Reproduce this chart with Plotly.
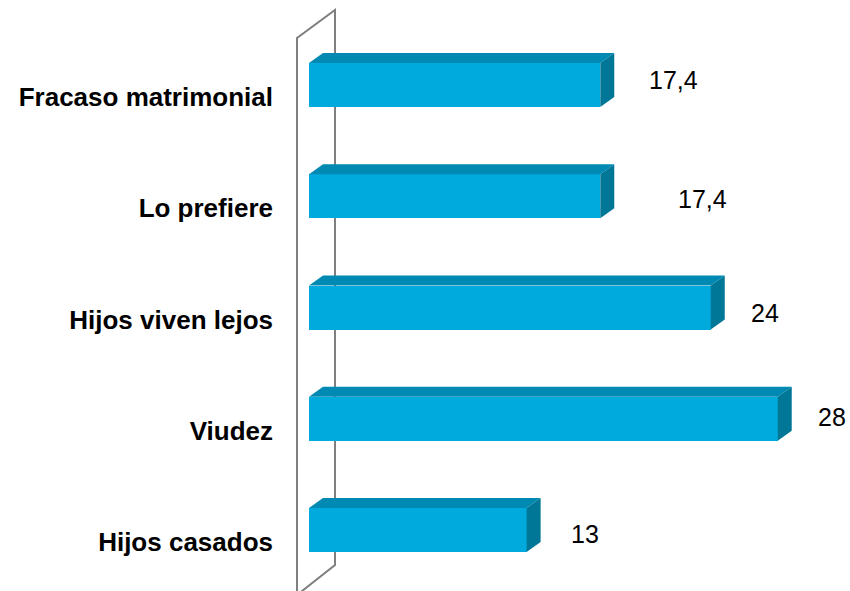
import plotly.graph_objects as go

# ---- data ----
categories = ["Hijos casados", "Viudez", "Hijos viven lejos", "Lo prefiere", "Fracaso matrimonial"]
values = [13, 28, 24, 17.4, 17.4]
value_labels = ["13", "28", "24", "17,4", "17,4"]

# ---- style / layout ----
PX_PER_UNIT = 16.74          # horizontal scale (px per unit)
PX_PER_CAT = 111.25          # vertical spacing (px per category)
BAR_H = 44 / PX_PER_CAT      # bar thickness in category units
DX = 14 / PX_PER_UNIT        # 3D depth, x
DY = 10 / PX_PER_CAT         # 3D depth, y
LABEL_DROP = 12 / PX_PER_CAT # category labels sit slightly below bar centres
FRONT = "#00AADD"
TOP = "#0089B2"
SIDE = "#007797"
# label offsets (px) relative to the bar's back end (x right, y up)
label_shift = [(44, -4), (40, 2), (40, -5), (88, -3), (59, 5)]

W, H = 850, 591
L = 280
x0 = -(309 - L) / PX_PER_UNIT
x1 = (W - 309) / PX_PER_UNIT
y0 = -(H - 530) / PX_PER_CAT
y1 = 4 + 85 / PX_PER_CAT

idx = list(range(len(categories)))

fig = go.Figure()

# front faces
fig.add_trace(go.Bar(
    x=values, y=idx, orientation="h", width=BAR_H,
    marker=dict(color=FRONT, line=dict(width=0)), hoverinfo="skip", showlegend=False,
))

# top and side faces
for i, v in zip(idx, values):
    t = i + BAR_H / 2
    b = i - BAR_H / 2
    fig.add_trace(go.Scatter(
        x=[0, v, v + DX, DX, 0], y=[t, t, t + DY, t + DY, t],
        fill="toself", fillcolor=TOP, line=dict(width=0), mode="lines",
        hoverinfo="skip", showlegend=False,
    ))
    fig.add_trace(go.Scatter(
        x=[v, v + DX, v + DX, v, v], y=[b, b + DY, t + DY, t, b],
        fill="toself", fillcolor=SIDE, line=dict(width=0), mode="lines",
        hoverinfo="skip", showlegend=False,
    ))

# value labels
for i, v, lab, (sx, sy) in zip(idx, values, value_labels, label_shift):
    fig.add_annotation(
        x=v + DX, y=i, text=lab, showarrow=False, xanchor="center", yanchor="middle",
        xshift=sx, yshift=sy, font=dict(family="Liberation Sans, Arial", size=25, color="#000000"),
    )

# wall (3D axis plane)
def px_x(p):
    return (p - 309) / PX_PER_UNIT

def px_y(p):
    return 4 + (85 - p) / PX_PER_CAT

wall_pts = [(297, 600), (297, 38), (335, 10), (335, 565), (297, 595)]
path = "M " + " L ".join(f"{px_x(a)},{px_y(b)}" for a, b in wall_pts)
fig.add_shape(type="path", path=path, xref="x", yref="y",
              line=dict(color="#7F7F7F", width=2), fillcolor="rgba(0,0,0,0)", layer="below")

fig.update_layout(
    width=W, height=H,
    margin=dict(l=L, r=0, t=0, b=0),
    paper_bgcolor="#FFFFFF", plot_bgcolor="rgba(0,0,0,0)",
    bargap=0,
    xaxis=dict(range=[x0, x1], visible=False, fixedrange=True),
    yaxis=dict(range=[y0, y1], tickvals=[i - LABEL_DROP for i in idx], ticktext=categories,
               showgrid=False, zeroline=False, showline=False, ticks="",
               ticklabelstandoff=6, fixedrange=True,
               tickfont=dict(family="Liberation Sans, Arial", size=26, color="#000000", weight="bold")),
    font=dict(family="Liberation Sans, Arial"),
)

fig.write_html("out.html", config={"displayModeBar": False},
               post_script="document.body.style.margin='0';")
